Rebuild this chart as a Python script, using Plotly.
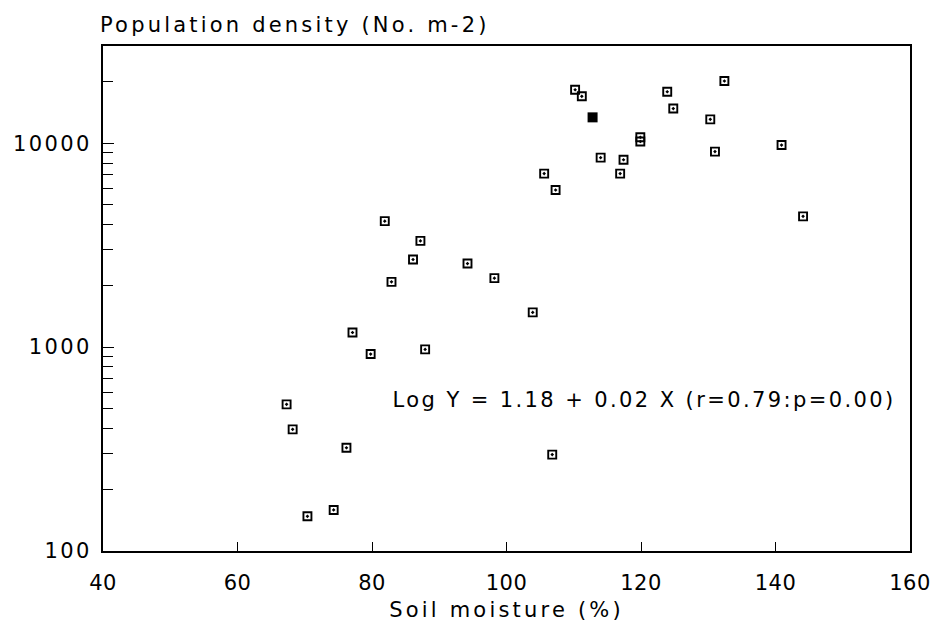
import math
import plotly.graph_objects as go

# ---- data ----
soil_moisture = [67.3, 68.2, 70.4, 74.3, 76.2, 77.1, 79.8, 81.9, 82.9, 86.1,
                 87.2, 87.9, 94.2, 98.2, 103.9, 105.6, 106.8, 107.3, 110.2, 111.2,
                 114.0, 116.9, 117.4, 119.9, 119.9, 123.9, 124.8, 130.3, 131.0, 132.4,
                 140.9, 144.1]
density = [524, 395, 148, 159, 321, 1180, 925, 4150, 2090, 2690,
           3320, 975, 2570, 2180, 1480, 7100, 297, 5900, 18300, 17000,
           8500, 7100, 8300, 10200, 10700, 17900, 14800, 13100, 9100, 20200,
           9800, 4380]
# overlapping observations drawn as a filled marker
overlap_moisture = [112.8]
overlap_density = [13400]

x_ticks = [40, 60, 80, 100, 120, 140, 160]
y_ticks = [100, 1000, 10000]
y_tick_labels = ["100", "1000", "10000"]

title_text = "Population density (No. m-2)"
x_title = "Soil moisture (%)"
equation = "Log Y = 1.18 + 0.02 X (r=0.79:p=0.00)"

FONT = "DejaVu Sans"
FS = 21

fig = go.Figure()
fig.add_trace(go.Scatter(
    x=soil_moisture, y=density, mode="markers",
    marker=dict(symbol="square-open-dot", size=8, color="black",
                line=dict(width=1.9, color="black")),
    showlegend=False))
fig.add_trace(go.Scatter(
    x=overlap_moisture, y=overlap_density, mode="markers",
    marker=dict(symbol="square", size=10, color="black"),
    showlegend=False))

minor_vals = [m * 10 ** e for e in (2, 3, 4) for m in range(2, 10) if m * 10 ** e <= 30000]

fig.update_layout(
    width=932, height=629,
    margin=dict(l=103, r=22, t=46, b=78, autoexpand=False),
    paper_bgcolor="white", plot_bgcolor="white",
    font=dict(family=FONT, size=FS, color="black"),
    title=dict(text=title_text, xref="container", yref="container",
               x=100 / 932, y=1 - 25 / 629, xanchor="left", yanchor="middle",
               font=dict(family=FONT, size=FS, color="black")),
    xaxis=dict(range=[40, 160], tickvals=x_ticks, ticks="inside", ticklen=9,
               tickwidth=1.2, tickcolor="black", showline=True, linecolor="black",
               linewidth=2, mirror=True, showgrid=False, zeroline=False,
               ticklabelstandoff=12, automargin=False,
               title=dict(text=x_title, standoff=8,
                          font=dict(family=FONT, size=FS, color="black"))),
    yaxis=dict(type="log", range=[2, math.log10(30000)], tickvals=y_ticks,
               ticktext=y_tick_labels, ticks="inside", ticklen=11, tickwidth=1.2,
               tickcolor="black", showline=True, linecolor="black", linewidth=2,
               mirror=True, showgrid=False, zeroline=False, automargin=False,
               ticklabelstandoff=5,
               minor=dict(tickvals=minor_vals, ticks="inside", ticklen=10,
                          tickwidth=1.2, tickcolor="black", showgrid=False)),
    annotations=[dict(text=equation, xref="paper", yref="paper",
                      x=(644 - 103) / 807, y=(551 - 400) / 505,
                      xanchor="center", yanchor="middle", showarrow=False,
                      font=dict(family=FONT, size=FS, color="black"))],
)

post = """
document.body.style.margin = '0';
document.body.style.overflow = 'hidden';
var s = document.createElement('style');
s.innerHTML = '.main-svg text { letter-spacing: 2.4px; } ' +
              '.main-svg .xtick text { letter-spacing: 0.5px; } ' +
              '.main-svg text.gtitle, .main-svg text.xtitle { letter-spacing: 3.2px; }';
document.head.appendChild(s);
"""
fig.write_html("out.html", post_script=post, config={"displayModeBar": False})
